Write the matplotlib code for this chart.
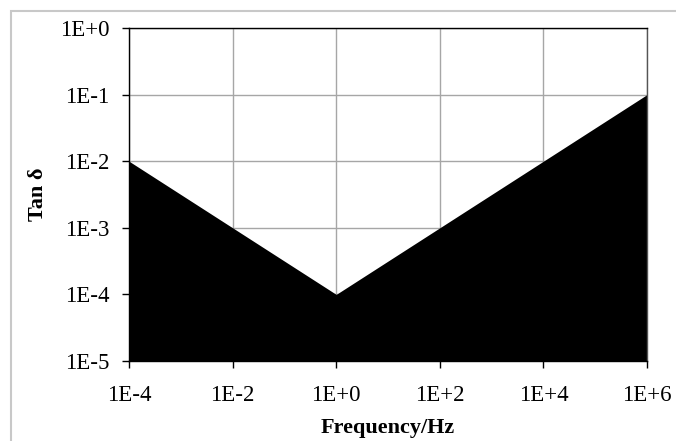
#!/usr/bin/env python3

"""Tan delta vs frequency envelope (log-log, filled)."""

import matplotlib
matplotlib.use("Agg")
import matplotlib.pyplot as plt
from matplotlib.patches import Rectangle
from matplotlib.ticker import FixedLocator, FuncFormatter, NullLocator
import numpy as np

freq_hz = [1e-4, 1e0, 1e6]
tan_delta = [1e-2, 1e-4, 1e-1]
x_ticks = [1e-4, 1e-2, 1e0, 1e2, 1e4, 1e6]
y_ticks = [1e-5, 1e-4, 1e-3, 1e-2, 1e-1, 1e0]


def sci_label(v, _pos=None):
    e = int(round(np.log10(v)))
    return f"1E+{e}" if e >= 0 else f"1E{e}"


plt.rcParams["font.family"] = ["Liberation Serif", "DejaVu Serif"]

fig = plt.figure(figsize=(6.76, 4.41), dpi=100)
ax = fig.add_axes([129 / 676, 1 - 361 / 441, (647 - 129) / 676, (361 - 28) / 441])

# light outer chart border (only top/left visible in the reference)
fig.patches.append(Rectangle((11 / 676, -0.1), 1.2, 0.1 + 1 - 11 / 441,
                             transform=fig.transFigure, fill=False,
                             edgecolor="#c8c8c8", linewidth=1.5))

ax.fill_between(freq_hz, 1e-5, tan_delta, color="black", linewidth=0, zorder=3)

ax.set_xscale("log")
ax.set_yscale("log")
ax.set_xlim(1e-4, 1e6)
ax.set_ylim(1e-5, 1e0)

ax.xaxis.set_major_locator(FixedLocator(x_ticks))
ax.yaxis.set_major_locator(FixedLocator(y_ticks))
ax.xaxis.set_minor_locator(NullLocator())
ax.yaxis.set_minor_locator(NullLocator())
ax.xaxis.set_major_formatter(FuncFormatter(sci_label))
ax.yaxis.set_major_formatter(FuncFormatter(sci_label))

ax.grid(True, color="#a6a6a6", linewidth=1.0, zorder=1)
ax.set_axisbelow(True)

for side in ("left", "bottom", "top"):
    ax.spines[side].set_color("black")
    ax.spines[side].set_linewidth(1.0)
ax.spines["right"].set_color("#555555")
ax.spines["right"].set_linewidth(1.0)
for sp in ax.spines.values():
    sp.set_zorder(4)

ax.tick_params(axis="both", which="major", direction="out", length=5,
               width=1.0, labelsize=16.5, color="black")
ax.tick_params(axis="y", pad=9)
ax.tick_params(axis="x", pad=12)

ax.set_xlabel("Frequency/Hz", fontsize=16, fontweight="bold", va="center")
ax.set_ylabel("Tan δ", fontsize=16, fontweight="bold", va="center")
ax.xaxis.set_label_coords(0.5, (361 - 428) / 333)
ax.yaxis.set_label_coords((38 - 129) / 518, 0.5)

fig.savefig("out.png", dpi=100)
